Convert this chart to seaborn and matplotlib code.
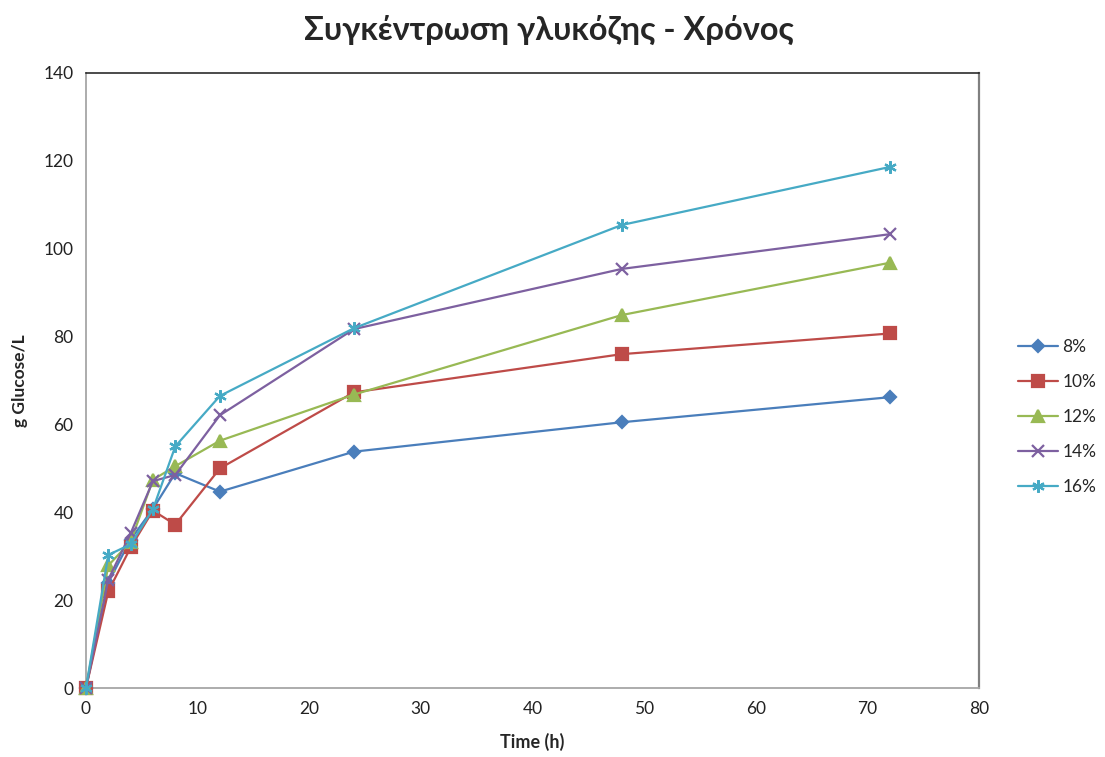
import numpy as np
import pandas as pd
import matplotlib
matplotlib.use("Agg")
import matplotlib.pyplot as plt
from matplotlib.lines import Line2D
import seaborn as sns

# Sampling times (h)
time_h = [0, 2, 4, 6, 8, 12, 24, 48, 72]

# Glucose concentration (g/L) for each solids loading
glc_8 = [0, 24.0, 33.8, 40.8, 48.9, 44.7, 53.8, 60.5, 66.2]
glc_10 = [0, 22.0, 32.0, 40.4, 37.2, 50.0, 67.3, 76.0, 80.7]
glc_12 = [0, 27.9, 33.3, 47.4, 50.5, 56.3, 66.8, 84.9, 96.8]
glc_14 = [0, 24.7, 35.2, 47.1, 48.5, 62.1, 81.7, 95.4, 103.3]
glc_16 = [0, 30.3, 32.7, 40.7, 55.0, 66.5, 81.9, 105.4, 118.6]

series_labels = ["8%", "10%", "12%", "14%", "16%"]
series_values = [glc_8, glc_10, glc_12, glc_14, glc_16]

x_ticks = [0, 10, 20, 30, 40, 50, 60, 70, 80]
y_ticks = [0, 20, 40, 60, 80, 100, 120, 140]

sns.set_theme(style="white")
plt.rcParams["font.family"] = ["Lato", "DejaVu Sans"]

colors = {"8%": "#4A7EBB", "10%": "#BE4B48", "12%": "#98B954",
          "14%": "#7D60A0", "16%": "#46AAC5"}
markers = {"8%": "D", "10%": "s", "12%": "^", "14%": "x", "16%": (6, 2, 0)}
msizes = {"8%": 6.5, "10%": 8, "12%": 8, "14%": 8, "16%": 9}

fig = plt.figure(figsize=(11.05, 7.57), dpi=100)
ax = fig.add_axes([0.0778, 0.0911, 0.8082, 0.8125])

for lab, vals in zip(series_labels, series_values):
    d = pd.DataFrame({"Time (h)": time_h, "g Glucose/L": vals})
    sns.lineplot(data=d, x="Time (h)", y="g Glucose/L", color=colors[lab],
                 marker=markers[lab], markersize=msizes[lab],
                 markeredgewidth=1.6, markeredgecolor=colors[lab],
                 markerfacecolor=colors[lab], linewidth=1.6, ax=ax,
                 clip_on=False, zorder=3)

ax.set_xlim(0, 80)
ax.set_ylim(0, 140)
ax.set_xticks(x_ticks)
ax.set_yticks(y_ticks)
ax.tick_params(axis="both", labelsize=12.5, length=0, pad=9,
               labelcolor="#222222")
for s in ax.spines.values():
    s.set_color("#A6A6A6")
    s.set_linewidth(1.3)
ax.spines["top"].set_color("#1a1a1a")
ax.spines["top"].set_linewidth(1.1)
ax.spines["right"].set_color("#808080")
ax.spines["right"].set_linewidth(1.6)

ax.set_xlabel("Time (h)", fontsize=13, fontweight="bold", labelpad=12)
ax.set_ylabel("g Glucose/L", fontsize=12.5, fontweight="bold", labelpad=11)

fig.suptitle("Συγκέντρωση γλυκόζης - Χρόνος", fontsize=23.5, fontweight="bold",
             y=0.98, x=0.497)

# legend with line handles
handles = [Line2D([], [], color=colors[l], marker=markers[l], markersize=msizes[l],
                  markeredgewidth=1.6, linewidth=1.6,
                  markerfacecolor=colors[l], markeredgecolor=colors[l])
           for l in series_labels]
fig.legend(handles, series_labels, loc="center left", bbox_to_anchor=(0.907, 0.449),
           frameon=False, fontsize=12.5, handlelength=2.3, labelspacing=1.1,
           handletextpad=0.25)

fig.savefig("out.png", dpi=100)
